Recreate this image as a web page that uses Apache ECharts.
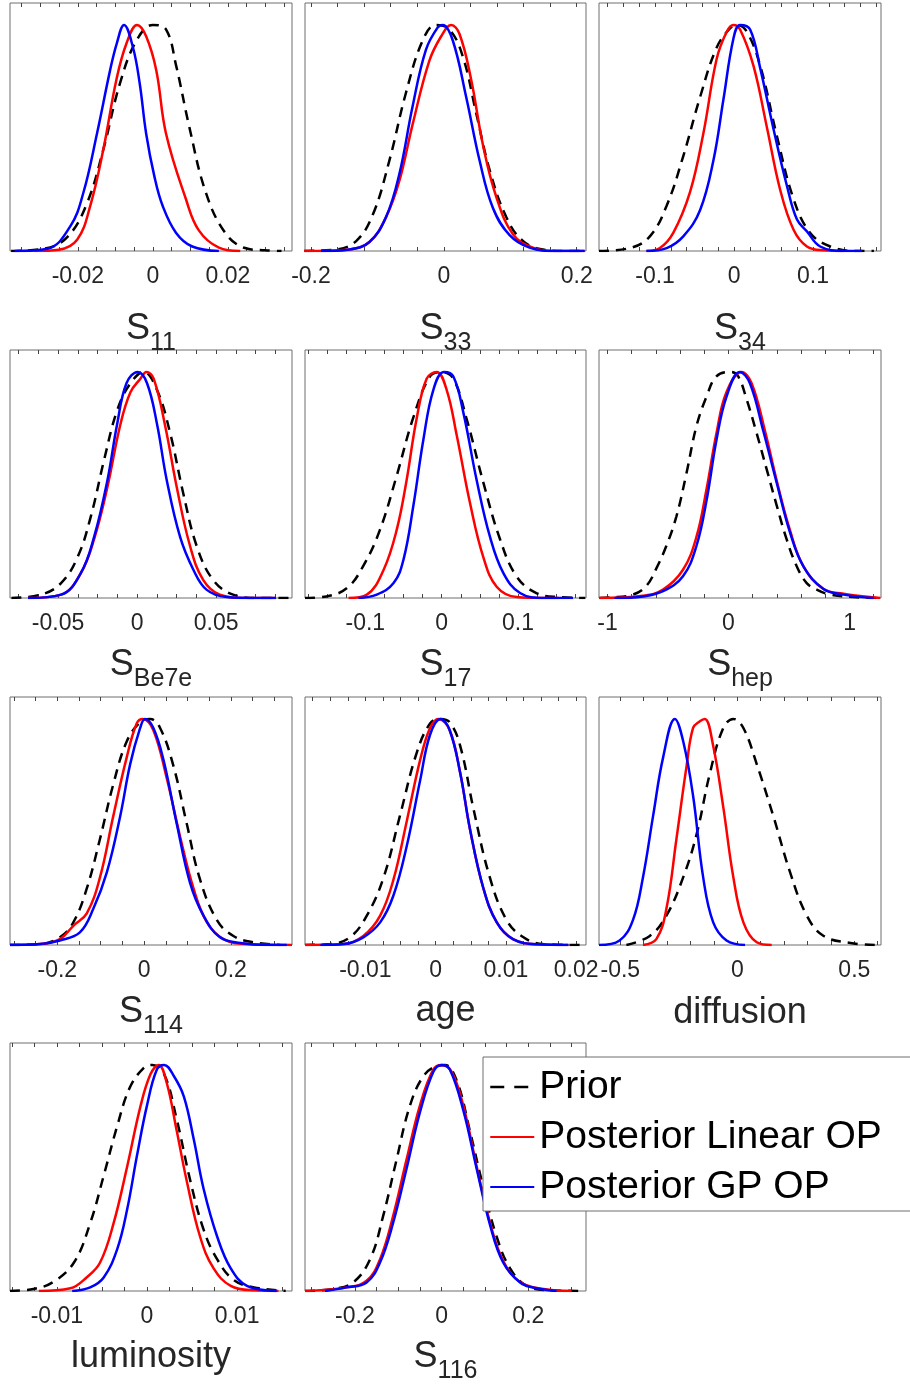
<!DOCTYPE html>
<html>
<head>
<meta charset="utf-8">
<script src="https://cdn.jsdelivr.net/npm/echarts@6/dist/echarts.min.js"></script>
<style>
  html, body { margin: 0; padding: 0; background: #fff; }
  #main { width: 910px; height: 1389px; }
</style>
</head>
<body>
<div id="main"></div>
<script>
// density curves: [x, density / peak]
const s11Prior = [[-0.0378,0],[-0.029,0.01],[-0.0229,0.06],[-0.0176,0.21],[-0.0132,0.45],[-0.0088,0.74],[-0.0044,0.93],[0,1],[0.0035,0.98],[0.0062,0.82],[0.0097,0.55],[0.0141,0.26],[0.0193,0.08],[0.0246,0.013],[0.0299,0.003],[0.0343,0]];
const s11Red = [[-0.0316,0],[-0.0251,0.006],[-0.0202,0.05],[-0.0167,0.2],[-0.0132,0.45],[-0.0097,0.76],[-0.007,0.92],[-0.0042,1],[-0.0018,0.95],[0.0009,0.8],[0.0035,0.52],[0.0088,0.23],[0.0123,0.09],[0.0176,0.015],[0.0233,0]];
const s11Blue = [[-0.0369,0],[-0.0281,0.01],[-0.022,0.11],[-0.0185,0.26],[-0.0149,0.52],[-0.0114,0.8],[-0.0096,0.92],[-0.0077,1],[-0.0053,0.9],[-0.0035,0.74],[-0.0018,0.52],[0.0004,0.33],[0.0026,0.2],[0.0062,0.08],[0.0105,0.02],[0.0176,0]];

const s33Prior = [[-0.21,0],[-0.162,0.007],[-0.132,0.044],[-0.107,0.16],[-0.082,0.4],[-0.057,0.7],[-0.032,0.93],[-0.012,1],[0.0085,0.98],[0.0286,0.86],[0.0487,0.61],[0.0688,0.36],[0.094,0.15],[0.119,0.044],[0.149,0.007],[0.184,0],[0.212,0]];
const s33Red = [[-0.21,0],[-0.142,0.007],[-0.112,0.04],[-0.087,0.15],[-0.067,0.31],[-0.047,0.56],[-0.022,0.84],[-0.004,0.95],[0.011,1],[0.0236,0.96],[0.041,0.76],[0.0588,0.47],[0.0789,0.24],[0.104,0.074],[0.134,0.015],[0.169,0],[0.212,0]];
const s33Blue = [[-0.185,0],[-0.142,0.007],[-0.112,0.04],[-0.087,0.15],[-0.067,0.34],[-0.047,0.64],[-0.027,0.89],[-0.009,0.99],[-0.0015,1],[0.0136,0.93],[0.0337,0.68],[0.0538,0.4],[0.0739,0.19],[0.099,0.07],[0.129,0.015],[0.169,0],[0.212,0]];

const s34Prior = [[-0.171,0],[-0.132,0.013],[-0.1066,0.065],[-0.0854,0.2],[-0.0643,0.42],[-0.0431,0.68],[-0.022,0.9],[-0.0051,0.985],[0.0034,1],[0.0161,0.97],[0.033,0.82],[0.0541,0.51],[0.0753,0.23],[0.0964,0.08],[0.1218,0.02],[0.153,0],[0.177,0]];
const s34Red = [[-0.111,0],[-0.0939,0.013],[-0.077,0.08],[-0.0558,0.26],[-0.0389,0.52],[-0.022,0.85],[-0.0093,0.97],[-0.0008,1],[0.0076,0.98],[0.0245,0.82],[0.0414,0.55],[0.0584,0.27],[0.0753,0.094],[0.0922,0.02],[0.113,0.003],[0.139,0]];
const s34Blue = [[-0.111,0],[-0.0854,0.013],[-0.0643,0.065],[-0.0431,0.18],[-0.0262,0.4],[-0.0135,0.67],[-0.0008,0.94],[0.0076,1],[0.0203,0.98],[0.033,0.81],[0.0499,0.54],[0.0668,0.29],[0.0795,0.14],[0.0922,0.087],[0.109,0.02],[0.139,0],[0.162,0]];

const be7Prior = [[-0.0795,0],[-0.0607,0.015],[-0.0481,0.066],[-0.0377,0.18],[-0.0293,0.36],[-0.0209,0.61],[-0.0126,0.83],[-0.0042,0.95],[0.0042,1],[0.0126,0.92],[0.0209,0.73],[0.0293,0.46],[0.0377,0.23],[0.0481,0.08],[0.0607,0.015],[0.0774,0],[0.0973,0]];
const be7Red = [[-0.069,0],[-0.048,0.015],[-0.0356,0.11],[-0.0272,0.26],[-0.0188,0.49],[-0.0105,0.77],[-0.0042,0.91],[0.0021,0.97],[0.0059,1],[0.0105,0.97],[0.0178,0.76],[0.0251,0.49],[0.0335,0.23],[0.0418,0.08],[0.0523,0.015],[0.069,0],[0.0879,0]];
const be7Blue = [[-0.069,0],[-0.048,0.015],[-0.0356,0.11],[-0.0272,0.27],[-0.0188,0.52],[-0.0126,0.77],[-0.0067,0.95],[0.0004,1],[0.0063,0.95],[0.0126,0.77],[0.0188,0.52],[0.0272,0.27],[0.0356,0.125],[0.0439,0.037],[0.0565,0.004],[0.073,0],[0.0879,0]];

const s17Prior = [[-0.179,0],[-0.151,0.007],[-0.124,0.044],[-0.103,0.14],[-0.081,0.3],[-0.059,0.54],[-0.037,0.8],[-0.0153,0.98],[0,1],[0.0153,0.97],[0.0328,0.79],[0.0546,0.51],[0.0764,0.26],[0.098,0.096],[0.124,0.022],[0.155,0.004],[0.188,0]];
const s17Red = [[-0.122,0],[-0.098,0.015],[-0.076,0.125],[-0.059,0.3],[-0.046,0.52],[-0.033,0.79],[-0.0197,0.97],[-0.0066,1],[0.0066,0.92],[0.0197,0.72],[0.0371,0.42],[0.0546,0.18],[0.072,0.05],[0.0983,0.004],[0.133,0],[0.153,0]];
const s17Blue = [[-0.109,0],[-0.085,0.015],[-0.063,0.066],[-0.05,0.17],[-0.037,0.41],[-0.024,0.7],[-0.011,0.92],[0.003,1],[0.0153,0.98],[0.0284,0.82],[0.0459,0.52],[0.0633,0.27],[0.0808,0.11],[0.1026,0.022],[0.133,0],[0.172,0]];

const hepPrior = [[-1.066,0],[-0.983,0.002],[-0.79,0.015],[-0.68,0.053],[-0.597,0.13],[-0.514,0.23],[-0.431,0.36],[-0.348,0.55],[-0.265,0.76],[-0.182,0.89],[-0.1,0.98],[0.02,1],[0.08,0.98],[0.149,0.88],[0.232,0.73],[0.315,0.57],[0.398,0.41],[0.48,0.26],[0.564,0.14],[0.646,0.066],[0.729,0.037],[0.84,0.015],[1.06,0.003],[1.23,0]];
const hepRed = [[-1.07,0],[-0.707,0.01],[-0.541,0.037],[-0.376,0.125],[-0.265,0.27],[-0.182,0.48],[-0.099,0.73],[-0.017,0.91],[0.108,1],[0.191,0.95],[0.301,0.74],[0.398,0.52],[0.508,0.3],[0.619,0.14],[0.785,0.04],[0.95,0.019],[1.254,0]];
const hepBlue = [[-0.942,0],[-0.707,0.007],[-0.541,0.03],[-0.376,0.096],[-0.265,0.23],[-0.182,0.43],[-0.099,0.7],[-0.017,0.89],[0.094,1],[0.177,0.95],[0.287,0.74],[0.398,0.51],[0.508,0.29],[0.619,0.14],[0.785,0.04],[0.95,0.015],[1.199,0]];

const s114Prior = [[-0.309,0],[-0.24,0.004],[-0.194,0.034],[-0.163,0.1],[-0.132,0.25],[-0.1015,0.47],[-0.071,0.71],[-0.04,0.9],[-0.009,0.985],[0.014,1],[0.037,0.96],[0.068,0.79],[0.098,0.54],[0.129,0.29],[0.168,0.11],[0.206,0.04],[0.252,0.012],[0.314,0]];
const s114Red = [[-0.309,0],[-0.24,0.004],[-0.194,0.026],[-0.163,0.085],[-0.132,0.14],[-0.1015,0.3],[-0.071,0.57],[-0.04,0.83],[-0.017,0.98],[-0.003,1],[0.0215,0.95],[0.052,0.74],[0.083,0.48],[0.114,0.25],[0.145,0.1],[0.183,0.026],[0.237,0.004],[0.341,0]];
const s114Blue = [[-0.309,0],[-0.24,0.004],[-0.194,0.02],[-0.148,0.056],[-0.117,0.16],[-0.086,0.32],[-0.055,0.57],[-0.032,0.8],[-0.009,0.96],[0.002,1],[0.0215,0.96],[0.0446,0.82],[0.075,0.54],[0.106,0.275],[0.137,0.13],[0.175,0.034],[0.222,0.009],[0.283,0],[0.329,0]];

const agePrior = [[-0.0186,0],[-0.015,0.004],[-0.0122,0.034],[-0.0098,0.13],[-0.0074,0.3],[-0.0051,0.57],[-0.0027,0.85],[-0.0008,0.98],[0.0006,1],[0.002,0.985],[0.0035,0.88],[0.0054,0.6],[0.0077,0.3],[0.0101,0.11],[0.0125,0.034],[0.0153,0.004],[0.0212,0]];
const ageRed = [[-0.0186,0],[-0.0131,0.004],[-0.0103,0.04],[-0.0079,0.13],[-0.006,0.29],[-0.0041,0.55],[-0.0022,0.82],[-0.0008,0.96],[0.0004,1],[0.002,0.95],[0.0035,0.76],[0.0049,0.51],[0.0068,0.25],[0.0087,0.1],[0.011,0.026],[0.0144,0.003],[0.0189,0]];
const ageBlue = [[-0.0164,0],[-0.0131,0.004],[-0.0103,0.034],[-0.0079,0.1],[-0.006,0.22],[-0.0041,0.44],[-0.0022,0.73],[-0.0008,0.93],[0.0007,1],[0.002,0.95],[0.0035,0.76],[0.0049,0.51],[0.0068,0.25],[0.0087,0.1],[0.011,0.026],[0.0144,0.003],[0.0189,0]];

const difPrior = [[-0.474,0],[-0.374,0.04],[-0.303,0.13],[-0.231,0.3],[-0.174,0.49],[-0.117,0.76],[-0.06,0.96],[-0.017,1],[0.026,0.96],[0.083,0.8],[0.154,0.57],[0.226,0.32],[0.297,0.13],[0.369,0.04],[0.483,0.009],[0.597,0]];
const difRed = [[-0.403,0],[-0.346,0.026],[-0.303,0.16],[-0.26,0.47],[-0.217,0.79],[-0.189,0.96],[-0.16,0.99],[-0.139,1],[-0.103,0.88],[-0.06,0.61],[-0.017,0.3],[0.026,0.1],[0.083,0.012],[0.147,0]];
const difBlue = [[-0.591,0],[-0.503,0.02],[-0.446,0.11],[-0.403,0.3],[-0.36,0.57],[-0.317,0.83],[-0.267,1],[-0.231,0.9],[-0.189,0.66],[-0.146,0.3],[-0.103,0.1],[-0.046,0.02],[0.033,0]];

const lumPrior = [[-0.0152,0],[-0.0126,0.009],[-0.0104,0.04],[-0.0081,0.126],[-0.0063,0.3],[-0.0048,0.51],[-0.0033,0.73],[-0.0019,0.9],[-0.0004,0.985],[0.0006,1],[0.0019,0.96],[0.0033,0.76],[0.0048,0.49],[0.0063,0.27],[0.0078,0.14],[0.0096,0.05],[0.0119,0.016],[0.0154,0]];
const lumRed = [[-0.012,0],[-0.0085,0.012],[-0.0067,0.06],[-0.0052,0.126],[-0.0037,0.3],[-0.0022,0.55],[-0.0007,0.82],[0.0004,0.96],[0.0013,1],[0.0022,0.92],[0.0033,0.71],[0.0044,0.49],[0.0059,0.24],[0.0074,0.1],[0.0093,0.023],[0.0119,0.003],[0.0146,0]];
const lumBlue = [[-0.0083,0],[-0.0063,0.016],[-0.0048,0.06],[-0.0033,0.185],[-0.0022,0.36],[-0.0011,0.6],[0,0.82],[0.0011,0.98],[0.0019,1],[0.003,0.95],[0.0041,0.86],[0.0052,0.67],[0.0063,0.45],[0.0078,0.24],[0.0093,0.1],[0.0111,0.023],[0.0144,0]];

const s116Prior = [[-0.315,0],[-0.25,0.009],[-0.204,0.038],[-0.165,0.14],[-0.135,0.33],[-0.104,0.58],[-0.073,0.82],[-0.042,0.95],[-0.0115,0.995],[0.0077,1],[0.035,0.93],[0.065,0.71],[0.096,0.46],[0.127,0.24],[0.158,0.1],[0.196,0.023],[0.25,0.003],[0.327,0]];
const s116Red = [[-0.315,0],[-0.219,0.016],[-0.173,0.045],[-0.142,0.14],[-0.112,0.33],[-0.081,0.58],[-0.05,0.82],[-0.019,0.98],[0,1],[0.023,0.97],[0.05,0.82],[0.081,0.55],[0.112,0.3],[0.142,0.134],[0.181,0.04],[0.235,0.009],[0.3,0]];
const s116Blue = [[-0.269,0],[-0.219,0.016],[-0.173,0.038],[-0.142,0.126],[-0.112,0.3],[-0.081,0.54],[-0.05,0.79],[-0.019,0.97],[0,1],[0.019,0.98],[0.05,0.8],[0.081,0.54],[0.112,0.29],[0.142,0.126],[0.181,0.038],[0.219,0.012],[0.265,0]];

// panels, in reading order
const titles = [['S','11'],['S','33'],['S','34'],['S','Be7e'],['S','17'],['S','hep'],['S','114'],['age',''],['diffusion',''],['luminosity',''],['S','116']];
const xMin = [-0.0381, -0.209, -0.171, -0.0804, -0.179, -1.07, -0.309, -0.0186, -0.591, -0.0152, -0.315];
const xMax = [0.0371, 0.214, 0.186, 0.098, 0.189, 1.26, 0.341, 0.0214, 0.614, 0.0161, 0.333];
const tickLabels = [
  [-0.02, 0, 0.02], [-0.2, 0, 0.2], [-0.1, 0, 0.1],
  [-0.05, 0, 0.05], [-0.1, 0, 0.1], [-1, 0, 1],
  [-0.2, 0, 0.2], [-0.01, 0, 0.01, 0.02], [-0.5, 0, 0.5],
  [-0.01, 0, 0.01], [-0.2, 0, 0.2]
];
const minorStep = [0.005, 0.04, 0.02, 0.0125, 0.025, 0.2, 0.05, 0.0025, 0.1, 0.0025, 0.05];
const priorCurves = [s11Prior, s33Prior, s34Prior, be7Prior, s17Prior, hepPrior, s114Prior, agePrior, difPrior, lumPrior, s116Prior];
const linearCurves = [s11Red, s33Red, s34Red, be7Red, s17Red, hepRed, s114Red, ageRed, difRed, lumRed, s116Red];
const gpCurves = [s11Blue, s33Blue, s34Blue, be7Blue, s17Blue, hepBlue, s114Blue, ageBlue, difBlue, lumBlue, s116Blue];
const seriesNames = ['Prior', 'Posterior Linear OP', 'Posterior GP OP'];

const colLeft = [10, 305, 599];
const colWidth = [282, 281, 282];
const rowTop = [3, 350, 697, 1043];
const nameGap = [60, 60, 60, 49, 49, 49, 49, 48, 50, 48, 48];
const font = 'Liberation Sans, Arial, Helvetica, sans-serif';

function tickPositions(lo, hi, step) {
  const out = [];
  for (let k = Math.ceil(lo / step - 1e-9); k * step <= hi + 1e-12; k++) {
    out.push(+(k * step).toFixed(6));
  }
  return out;
}

const chart = echarts.init(document.getElementById('main'));
const grid = [], xAxis = [], yAxis = [], series = [];

titles.forEach((t, i) => {
  const row = Math.floor(i / 3), col = i % 3;
  grid.push({
    left: colLeft[col], top: rowTop[row], width: colWidth[col], height: 248,
    show: true, borderColor: '#6e6e6e', borderWidth: 1, backgroundColor: '#fff',
    containLabel: false, outerBoundsMode: 'none'
  });
  const ticks = tickPositions(xMin[i], xMax[i], minorStep[i]);
  xAxis.push({
    gridIndex: i, type: 'value', position: 'bottom', min: xMin[i], max: xMax[i],
    axisLine: { show: false }, splitLine: { show: false },
    axisTick: { show: true, inside: true, length: 4, customValues: ticks, lineStyle: { color: '#444' } },
    axisLabel: {
      customValues: tickLabels[i], fontSize: 23, color: '#262626', fontFamily: font, margin: 14,
      formatter: v => String(+v.toFixed(4))
    },
    name: t[1] ? '{s|' + t[0] + '}{sub|' + t[1] + '}' : '{s|' + t[0] + '}',
    nameLocation: 'middle', nameGap: nameGap[i], nameMoveOverlap: false,
    nameTextStyle: {
      color: '#262626', fontFamily: font,
      rich: {
        s: { fontSize: 36, lineHeight: 40, verticalAlign: 'top', color: '#262626', fontFamily: font },
        sub: { fontSize: 25, lineHeight: 45, verticalAlign: 'bottom', color: '#262626', fontFamily: font }
      }
    }
  });
  xAxis.push({
    gridIndex: i, type: 'value', position: 'top', min: xMin[i], max: xMax[i],
    axisLine: { show: false }, splitLine: { show: false }, axisLabel: { show: false },
    axisTick: { show: true, inside: true, length: 4, customValues: ticks, lineStyle: { color: '#444' } }
  });
  yAxis.push({ gridIndex: i, type: 'value', min: 0, max: 1.097, show: false });

  const curves = [priorCurves[i], linearCurves[i], gpCurves[i]];
  const colors = ['#000000', '#ff0000', '#0000ff'];
  curves.forEach((c, k) => {
    series.push({
      type: 'line', name: seriesNames[k], xAxisIndex: 2 * i, yAxisIndex: i, data: c,
      symbol: 'none', showSymbol: false, smooth: 0.4,
      lineStyle: { color: colors[k], width: 2.5, type: k === 0 ? [10, 7] : 'solid' },
      itemStyle: { color: colors[k] },
      silent: true, animation: false
    });
  });
});

chart.setOption({
  backgroundColor: '#fff',
  animation: false,
  grid, xAxis, yAxis, series,
  legend: {
    data: [
      { name: 'Prior', lineStyle: { type: [14, 10], width: 2.5 } },
      { name: 'Posterior Linear OP' },
      { name: 'Posterior GP OP' }
    ],
    orient: 'vertical', left: 483, top: 1057,
    itemWidth: 44, itemHeight: 14, itemGap: 10,
    padding: [10, 60, 4, 6],
    backgroundColor: '#fff', borderColor: '#6e6e6e', borderWidth: 1,
    itemStyle: { color: 'rgba(0,0,0,0)', borderColor: 'rgba(0,0,0,0)', borderWidth: 0, opacity: 0 },
    textStyle: { fontSize: 39, lineHeight: 40, color: '#000', fontFamily: font },
    selectedMode: false
  }
});

window.addEventListener('resize', () => chart.resize());
</script>
</body>
</html>
